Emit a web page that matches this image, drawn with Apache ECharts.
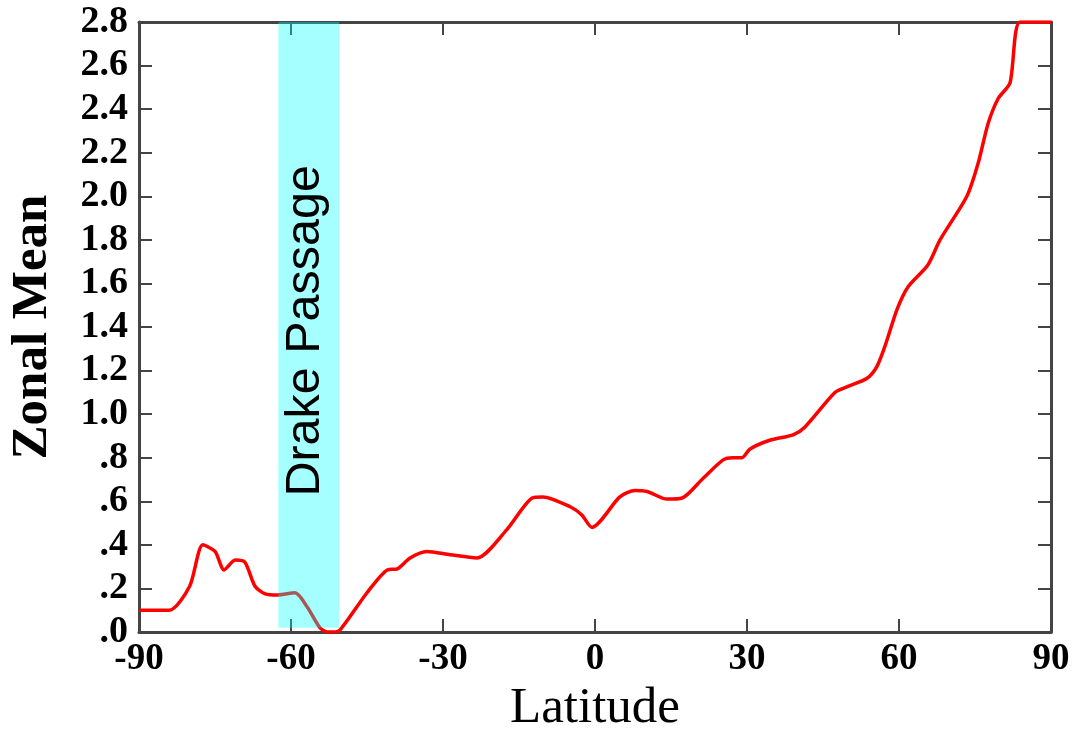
<!DOCTYPE html>
<html>
<head>
<meta charset="utf-8">
<script src="https://cdn.jsdelivr.net/npm/echarts@6/dist/echarts.min.js"></script>
<style>
  html, body { margin: 0; padding: 0; background: #fff; }
  #chart { width: 1078px; height: 731px; }
</style>
</head>
<body>
<div id="chart"></div>
<script>
// Zonal mean profile against latitude (degrees)
const latitudes = [
  -90, -84, -80, -77.4, -75, -73.2, -71, -69.1, -67.1, -65.1, -62.6, -59.2,
  -56.8, -54.3, -52.8, -51.7, -50.3, -45, -41, -39, -36.5, -33.2, -28.6, -23.3,
  -17.4, -12.4, -10.3, -4.9, -2.6, -0.6, 4.9, 7.9, 10.3, 14.2, 17.2, 21.3,
  25.3, 27.2, 29, 30.6, 34.5, 39.1, 41.4, 47.4, 49.7, 53.7, 55.6, 57.2,
  59.6, 61.8, 65.7, 68.1, 73.4, 75.6, 77.6, 79.6, 81.9, 83.9, 90
];
const zonalMean = [
  0.10, 0.10, 0.21, 0.40, 0.37, 0.285, 0.33, 0.32, 0.21, 0.175, 0.17, 0.18,
  0.115, 0.02, 0.0, 0.0, 0.01, 0.18, 0.285, 0.29, 0.34, 0.37, 0.355, 0.34,
  0.47, 0.615, 0.62, 0.575, 0.537, 0.48, 0.62, 0.65, 0.645, 0.61, 0.615, 0.705,
  0.79, 0.80, 0.80, 0.84, 0.88, 0.905, 0.94, 1.10, 1.125, 1.165, 1.217, 1.31,
  1.48, 1.585, 1.685, 1.80, 2.00, 2.15, 2.335, 2.45, 2.52, 2.80, 2.80
];

// Shaded latitude band and its label
const drakeBand = [-62.5, -50.5];
const drakeRange = [0.02, 2.8];
const drakeLabel = 'Drake Passage';

// Axis ticks
const xTicks = [-90, -60, -30, 0, 30, 60, 90];
const yMax = 2.8;
const yStep = 0.2;

const serif = '"Liberation Serif", "Times New Roman", serif';
const axisColor = '#444';

function yLabel(v) {
  const s = v.toFixed(1);
  return v < 1 ? s.replace(/^0/, '') : s;
}

const tickStyle = { show: true, inside: true, length: 13, lineStyle: { color: axisColor, width: 2 } };
const lineStyleAxis = { show: true, onZero: false, lineStyle: { color: axisColor, width: 3 } };

const chart = echarts.init(document.getElementById('chart'), null, { renderer: 'canvas' });
chart.setOption({
  animation: false,
  backgroundColor: '#ffffff',
  grid: { left: 139, right: 27, top: 22, bottom: 99, outerBoundsMode: 'none', containLabel: false },
  xAxis: [
    {
      type: 'value', position: 'bottom',
      min: xTicks[0], max: xTicks[xTicks.length - 1], interval: 30,
      axisLine: lineStyleAxis, axisTick: tickStyle, splitLine: { show: false },
      axisLabel: { color: '#000', fontFamily: serif, fontWeight: 'bold', fontSize: 37, margin: 9 },
      name: 'Latitude', nameLocation: 'middle', nameGap: 48,
      nameTextStyle: { color: '#000', fontFamily: serif, fontSize: 51 }
    },
    {
      type: 'value', position: 'top',
      min: xTicks[0], max: xTicks[xTicks.length - 1], interval: 30,
      axisLine: lineStyleAxis, axisTick: tickStyle, splitLine: { show: false },
      axisLabel: { show: false }
    }
  ],
  yAxis: [
    {
      type: 'value', position: 'left',
      min: 0, max: yMax, interval: yStep,
      axisLine: lineStyleAxis, axisTick: tickStyle, splitLine: { show: false },
      axisLabel: { color: '#000', fontFamily: serif, fontWeight: 'bold', fontSize: 38, margin: 11, formatter: yLabel },
      name: 'Zonal Mean', nameLocation: 'middle', nameGap: 81,
      nameTextStyle: { color: '#000', fontFamily: serif, fontWeight: 'bold', fontSize: 51 }
    },
    {
      type: 'value', position: 'right',
      min: 0, max: yMax, interval: yStep,
      axisLine: lineStyleAxis, axisTick: tickStyle, splitLine: { show: false },
      axisLabel: { show: false }
    }
  ],
  series: [
    {
      type: 'line',
      z: 2,
      data: latitudes.map((lat, i) => [lat, zonalMean[i]]),
      showSymbol: false,
      smooth: 0.25,
      lineStyle: { color: '#ff0000', width: 3.5 },
      clip: true
    },
    {
      type: 'line',
      z: 5,
      data: [],
      markArea: {
        silent: true,
        z: 5,
        itemStyle: { color: 'rgba(0, 255, 255, 0.35)' },
        label: {
          show: true,
          position: 'inside',
          rotate: 90,
          offset: [-6, -3],
          color: '#000',
          fontFamily: '"Liberation Sans", Arial, sans-serif',
          fontSize: 48.5
        },
        data: [[
          { name: drakeLabel, coord: [drakeBand[0], drakeRange[0]] },
          { coord: [drakeBand[1], drakeRange[1]] }
        ]]
      }
    }
  ]
});
</script>
</body>
</html>
